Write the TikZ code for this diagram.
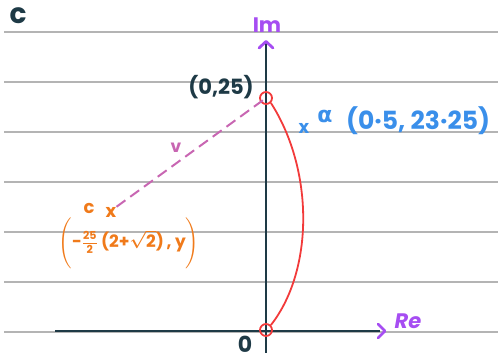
\documentclass[tikz,border=0pt]{standalone}
\usepackage{amsmath,amssymb}
\usepackage{fontspec}
\setmainfont{Poppins}
\newfontfamily\dejavu{DejaVu Sans}
\usetikzlibrary{arrows.meta}
\definecolor{navy}{HTML}{1E3A46}
\definecolor{purp}{HTML}{A64DF2}
\definecolor{bluec}{HTML}{3A8FEA}
\definecolor{orng}{HTML}{F07A1A}
\definecolor{pinkc}{HTML}{C866B2}
\definecolor{redc}{HTML}{F23A3A}
\definecolor{rule}{HTML}{B4B4B4}
\tikzset{
  ruleline/.style={rule, line width=1.3pt},
  axis/.style={navy, line width=2.4pt},
  ring/.style={circle, draw=redc, line width=1.8pt, minimum size=12pt, inner sep=0pt},
  lbl/.style={font=\bfseries, inner sep=0pt}
}
\begin{document}
\begin{tikzpicture}[x=1pt,y=-1pt]
\useasboundingbox (0,0) rectangle (498,353);
% ruled lines
\foreach \yy in {32,82,132,182,232,282,332}
  \draw[ruleline] (4,\yy) -- (498,\yy);
% axes
\coordinate (imtop) at (266,41);
\coordinate (imbot) at (266,360);
\coordinate (releft) at (55,331);
\coordinate (reright) at (385,331);
\draw[axis] (imbot) -- (imtop);
\draw[axis] (releft) -- (380,331);
\draw[purp, line width=2.8pt, line cap=round, line join=round] (259,48) -- (266,41.5) -- (273,48);
\draw[purp, line width=2.8pt, line cap=round, line join=round] (378,324) -- (385,331) -- (378,338);
% labels
\node[lbl, navy, font=\bfseries\fontsize{28}{28}\selectfont] (C) at (18,16) {c};
\node[lbl, purp, font=\bfseries\fontsize{21}{21}\selectfont] (Im) at (267,25) {Im};
\node[lbl, purp, font=\bfseries\itshape\fontsize{21}{21}\selectfont] (Re) at (408,321) {Re};
\node[lbl, navy, font=\bfseries\fontsize{22}{22}\selectfont] (zero) at (245,344) {0};
\node[lbl, navy, font=\bfseries\fontsize{21}{21}\selectfont] (p25) at (221,87) {(0,25)};
% points
\node[ring] (A) at (266,98) {};
\node[ring] (O) at (266,330) {};
% curve
\draw[redc, line width=1.8pt] (A.south east) .. controls (314,170) and (314,270) .. (O.north east);
% c point and dashed line
\node[lbl, orng, font=\bfseries\fontsize{18}{18}\selectfont] (cx) at (111,212) {x};
\node[lbl, orng, font=\bfseries\fontsize{18}{18}\selectfont] (cl) at (89,208) {c};
\draw[pinkc, line width=2pt, dash pattern=on 11pt off 6pt] (cx.north east) -- (A.center);
\node[lbl, pinkc, font=\bfseries\fontsize{17}{17}\selectfont] (v) at (176,148) {v};
\node[lbl, orng, font=\boldmath\bfseries\fontsize{17}{17}\selectfont] (cco) at (129,243)
  {$\Bigg(\text{-}\frac{\text{\fontsize{11}{11}\selectfont 25}}{\text{\fontsize{11}{11}\selectfont 2}}\,\text{(2+}\sqrt{\text{2}}\text{)\,,\ y}\Bigg)$};
% alpha
\node[lbl, bluec, font=\bfseries\fontsize{18}{18}\selectfont] (ax) at (304,128) {x};
\node[lbl, bluec, font=\dejavu\bfseries\fontsize{22}{22}\selectfont] (al) at (325,116) {α};
\node[lbl, bluec, font=\bfseries\fontsize{25}{25}\selectfont, anchor=west] (acoord) at (346,121) {(0·5, 23·25)};
\end{tikzpicture}
\end{document}
